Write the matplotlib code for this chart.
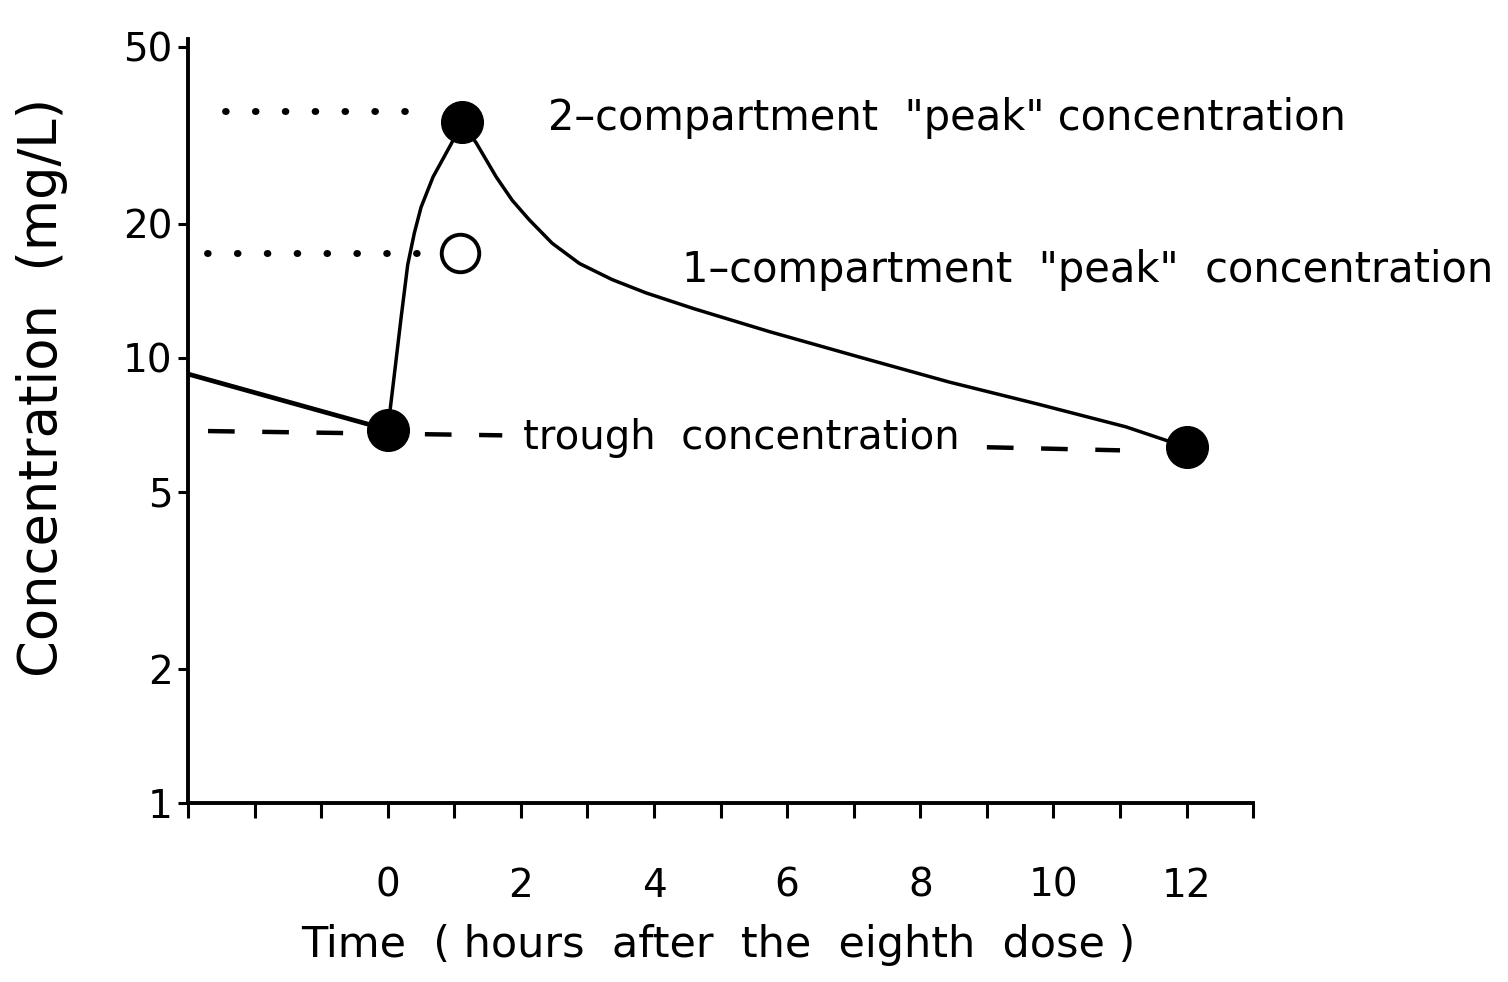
import matplotlib
matplotlib.use("Agg")
import matplotlib.pyplot as plt

# curve (hours after dose, mg/L)
pre_time = [-3, 0]
pre_conc = [9.2, 6.9]
time = [0, 0.1, 0.2, 0.3, 0.4, 0.5, 0.68, 0.96, 1.11,
        1.33, 1.63, 1.87, 2.13, 2.47, 2.88, 3.37, 3.88, 4.6, 5.74,
        7.08, 8.43, 9.76, 11.09, 12]
conc = [6.9, 9.2, 12.3, 16.2, 19.1, 21.8, 25.5, 30.4, 33.9,
        30.4, 25.5, 22.6, 20.4, 18.1, 16.3, 15.0, 14.0, 12.9, 11.45,
        10.05, 8.83, 7.88, 7.0, 6.3]

# measured points
filled_t = [0, 1.11, 12]
filled_c = [6.9, 33.9, 6.3]
open_t = [1.08]
open_c = [17.2]

# reference lines
peak2_x, peak2_y = [-2.45, 0.65], [35.8, 35.8]
peak1_x, peak1_y = [-2.72, 0.8], [17.2, 17.2]
trough_left_x, trough_left_y = [-2.7, 1.72], [6.85, 6.7]
trough_right_x, trough_right_y = [9.0, 11.0], [6.3, 6.2]

xticks = list(range(-3, 14))
xlabels = [str(t) if t >= 0 and t % 2 == 0 else '' for t in xticks]
yticks = [1, 2, 5, 10, 20, 50]

plt.rcParams['font.family'] = ['DejaVu Sans']
fig = plt.figure(figsize=(15.08, 9.82), dpi=100)
ax = fig.add_axes([0.1247, 0.1823, 0.7063, 0.7777])

ax.plot(pre_time, pre_conc, color='black', lw=3.4, solid_capstyle='butt')
ax.plot(time, conc, color='black', lw=2.5, solid_joinstyle='round')
ax.plot(peak2_x, peak2_y, color='black', lw=5, linestyle=(0, (0.1, 4.2)), dash_capstyle='round')
ax.plot(peak1_x, peak1_y, color='black', lw=5, linestyle=(0, (0.1, 4.2)), dash_capstyle='round')
ax.plot(trough_left_x, trough_left_y, color='black', lw=3.2, dashes=(6, 6.2))
ax.plot(trough_right_x, trough_right_y, color='black', lw=3.2, dashes=(6, 6.2))
ax.plot(filled_t, filled_c, 'o', color='black', ms=30, ls='none', zorder=5)
ax.plot(open_t, open_c, 'o', mfc='white', mec='black', mew=2.8, ms=27, ls='none', zorder=5)

ax.text(2.4, 34.6, '2–compartment  "peak" concentration', fontsize=30, va='center', ha='left')
ax.text(4.42, 15.8, '1–compartment  "peak"  concentration', fontsize=30, va='center', ha='left')
ax.text(2.03, 6.6, 'trough  concentration', fontsize=29, va='center', ha='left')

ax.set_yscale('log')
ax.set_xlim(-3, 13)
ax.set_ylim(1, 52)
ax.set_yticks(yticks)
ax.set_yticklabels([str(v) for v in yticks])
ax.minorticks_off()
ax.set_xticks(xticks)
ax.set_xticklabels(xlabels)
ax.tick_params(axis='x', direction='out', length=11, width=2.2, pad=35, labelsize=28)
ax.tick_params(axis='y', direction='out', length=7, width=2.2, pad=4, labelsize=28)

for s in ['top', 'right']:
    ax.spines[s].set_visible(False)
for s in ['left', 'bottom']:
    ax.spines[s].set_linewidth(2.8)

fig.text(0.476, 0.0377, 'Time  ( hours  after  the  eighth  dose )', fontsize=31, ha='center', va='center')
fig.text(0.028, 0.605, 'Concentration  (mg/L)', fontsize=38, rotation=90, ha='center', va='center')

fig.savefig('out.png', dpi=100, facecolor='white')
